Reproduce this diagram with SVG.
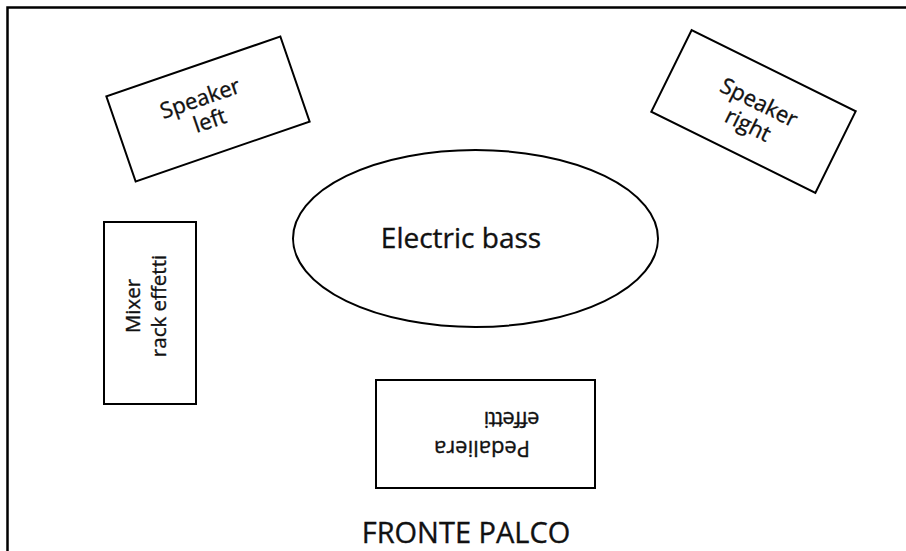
<svg xmlns="http://www.w3.org/2000/svg" width="906" height="551" viewBox="0 0 906 551">
<style>
.box{fill:#fff;stroke:#000;stroke-width:2}
.t{font-family:"Open Sans","Liberation Sans",sans-serif;fill:#111;stroke:#111;stroke-width:0.35;text-anchor:middle}
</style>
<rect width="906" height="551" fill="#fff"/>
<path d="M7.5,551 V7.5 H906" fill="none" stroke="#000" stroke-width="2.5"/>
<g id="speaker-left" transform="translate(208,109) rotate(-19)">
<rect class="box" x="-92" y="-45" width="184" height="90"/>
<text class="t" font-size="22" x="-4" y="-5">Speaker</text>
<text class="t" font-size="22" x="-2" y="19">left</text>
</g>
<g id="speaker-right" transform="translate(753.5,111.5) rotate(26.3)">
<rect class="box" x="-91.5" y="-45.5" width="183" height="91"/>
<text class="t" font-size="22" x="1" y="-3">Speaker</text>
<text class="t" font-size="22" x="1" y="22">right</text>
</g>
<g id="electric-bass">
<ellipse class="box" cx="475.5" cy="238.5" rx="182.5" ry="88.5"/>
<text class="t" font-size="28" x="461" y="248">Electric bass</text>
</g>
<g id="mixer">
<rect class="box" x="104" y="222" width="92" height="182"/>
<g transform="translate(150,306) rotate(-90)">
<text class="t" font-size="20.5" x="0" y="-10">Mixer</text>
<text class="t" font-size="20.5" x="0" y="16">rack effetti</text>
</g>
</g>
<g id="pedaliera">
<rect class="box" x="376" y="380" width="219" height="108"/>
<g transform="translate(485,434) rotate(180)">
<text class="t" font-size="22" x="3" y="-6.5">Pedaliera</text>
<text class="t" font-size="22" x="-27" y="22" letter-spacing="-0.8">effetti</text>
</g>
</g>
<text id="fronte-palco" class="t" font-size="29" x="466" y="543">FRONTE PALCO</text>
</svg>
